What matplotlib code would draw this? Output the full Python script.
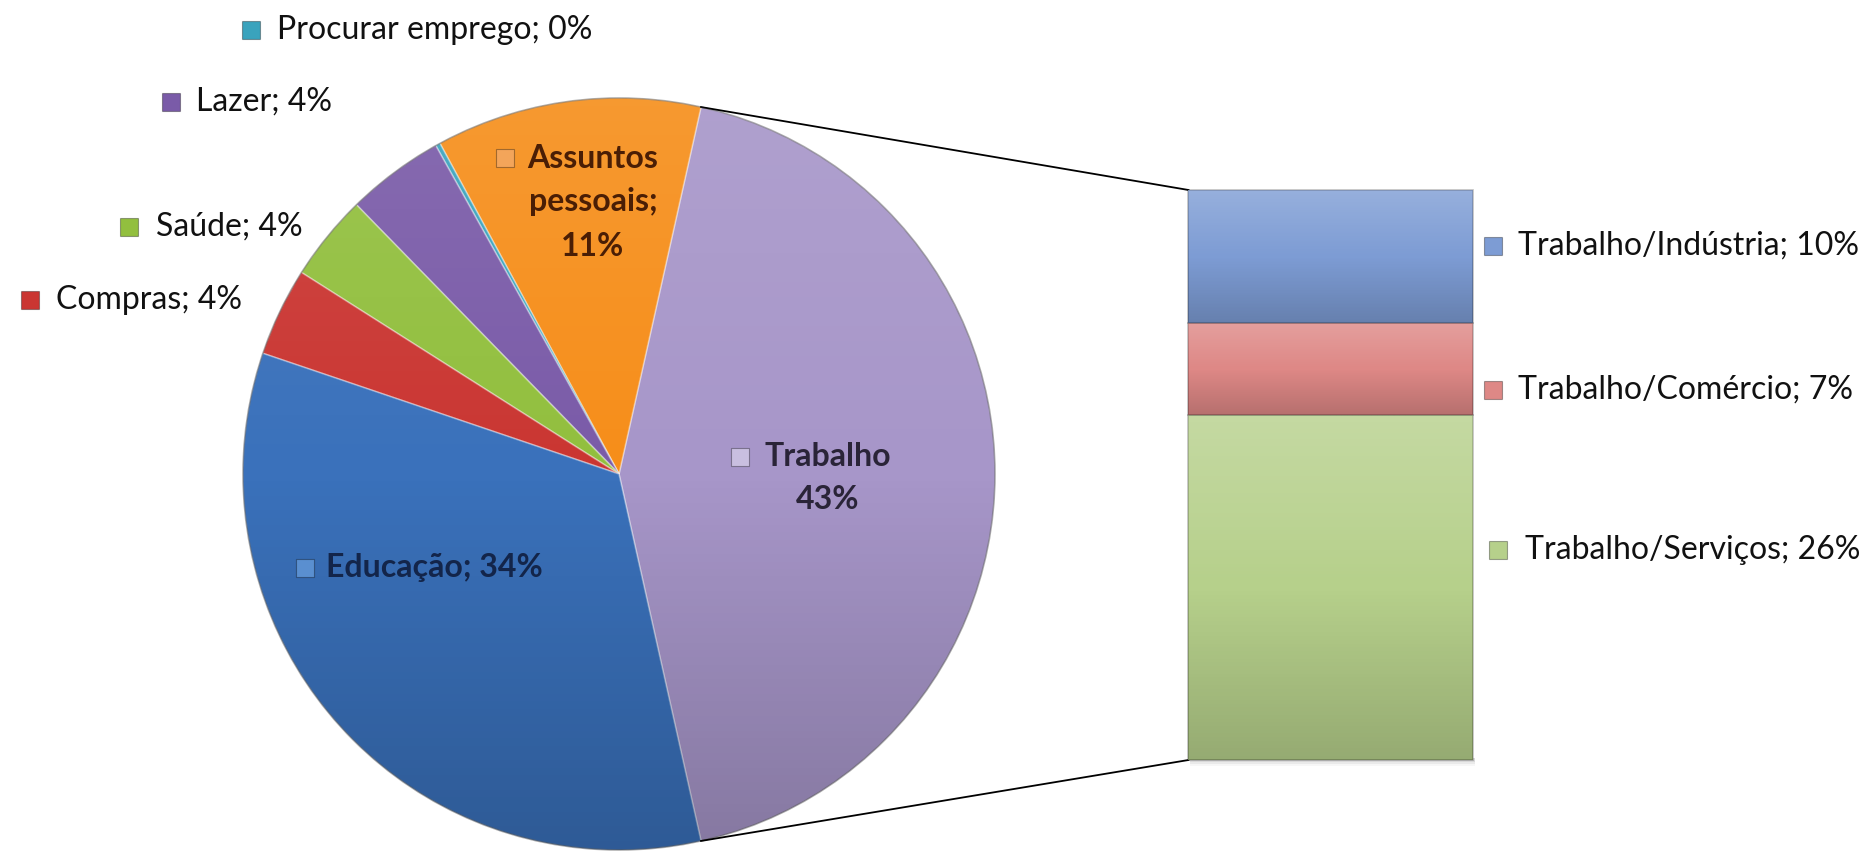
import matplotlib.pyplot as plt
import numpy as np
from matplotlib.patches import Rectangle, Circle

# dados da pizza principal
categorias = ['Trabalho', 'Assuntos pessoais', 'Procurar emprego', 'Lazer', 'Saúde', 'Compras', 'Educação']
valores = [43.0, 11.4, 0.2, 4.2, 3.7, 3.8, 33.7]
cores = ['#a796c9', '#f68e1a', '#3aa3bd', '#7a5ba8', '#92bf3e', '#ca3632', '#3a71bb']

# desdobramento da fatia "Trabalho" na barra
sub_categorias = ['Trabalho/Indústria', 'Trabalho/Comércio', 'Trabalho/Serviços']
sub_valores = [10, 7, 26]
sub_cores = ['#7d9cd4', '#de8886', '#b6d08b']

W, H = 1873, 855


def py(y):
    # coordenada de pixel (de cima para baixo) -> dados
    return H - y


def sombra(ax, patch, x0, x1, y0, y1, claro=0.22, escuro=0.22):
    # gradiente vertical: claro em cima, escuro embaixo
    n = 256
    t = np.linspace(0, 1, n)
    g = np.zeros((n, 1, 4))
    g[:, 0, :3] = (t < 0.5)[:, None] * 1.0
    g[:, 0, 3] = np.clip(1 - t / 0.5, 0, 1) * claro + np.clip((t - 0.5) / 0.5, 0, 1) * escuro
    im = ax.imshow(g, extent=(x0, x1, y0, y1), aspect='auto', origin='upper',
                   interpolation='bilinear', zorder=patch.get_zorder() + 0.1)
    im.set_clip_path(patch)


def marcador(ax, x, y, cor, lado=18):
    ax.add_patch(Rectangle((x - lado / 2, py(y) - lado / 2), lado, lado, facecolor=cor,
                           edgecolor='#00000055', linewidth=0.8, zorder=6))


plt.rcParams['font.family'] = ['Lato', 'DejaVu Sans']
fig = plt.figure(figsize=(W / 100, H / 100), dpi=100)
ax = fig.add_axes([0, 0, 1, 1])

# pizza
cx, cy, r = 619, py(474), 376
inicio = -valores[0] / sum(valores) * 180
fatias, _ = ax.pie(valores, colors=cores, startangle=inicio, center=(cx, cy), radius=r,
                   counterclock=True, wedgeprops=dict(edgecolor=(1, 1, 1, 0.35), linewidth=1.2))
contorno = Circle((cx, cy), r, facecolor='none', edgecolor='#00000050', linewidth=1.2, zorder=3)
ax.add_patch(contorno)
sombra(ax, contorno, cx - r, cx + r, cy - r, cy + r, claro=0.1, escuro=0.2)

# barra (sombra suave embaixo)
bx, bw = 1331, 285
for d, a in [(6, '#00000008'), (4, '#0000000d'), (2, '#00000012')]:
    ax.add_patch(Rectangle((bx - bw / 2 + 2, py(760) - d), bw, d + 2, facecolor=a,
                           edgecolor='none', zorder=1))
k = 570 / sum(sub_valores)
fundo = py(760)
for nome, v, c in reversed(list(zip(sub_categorias, sub_valores, sub_cores))):
    ret = ax.bar(bx, v * k, width=bw, bottom=fundo, color=c, edgecolor='#00000040',
                 linewidth=1.2, zorder=2)[0]
    sombra(ax, ret, bx - bw / 2, bx + bw / 2, fundo, fundo + v * k, claro=0.2, escuro=0.18)
    fundo += v * k
topo_barra = fundo

# linhas de ligação
t1, t2 = np.radians(fatias[0].theta1), np.radians(fatias[0].theta2)
ax.plot([cx + r * np.cos(t2), bx - bw / 2], [cy + r * np.sin(t2), topo_barra], color='black', lw=1.3, zorder=1)
ax.plot([cx + r * np.cos(t1), bx - bw / 2], [cy + r * np.sin(t1), py(760)], color='black', lw=1.3, zorder=1)

fs = 23

# rótulos externos (marcador x, y, texto x)
externos = {'Procurar emprego': (251, 30, 277), 'Lazer': (171, 102, 196),
            'Saúde': (129, 227, 156), 'Compras': (30, 300, 56)}
for nome, (mx, my, tx) in externos.items():
    i = categorias.index(nome)
    marcador(ax, mx, my, cores[i])
    ax.text(tx, py(my), f'{nome}; {valores[i]:.0f}%', fontsize=fs, color='#111111',
            ha='left', va='center', zorder=7)

# rótulos internos
i = categorias.index('Educação')
marcador(ax, 305, 568, '#5a8fd0')
ax.text(326, py(568), f'Educação; {valores[i]:.0f}%', fontsize=fs, fontweight='bold',
        color='#13254a', ha='left', va='center', zorder=7)

i = categorias.index('Assuntos pessoais')
marcador(ax, 505, 158, '#f3a55a')
for j, linha in enumerate(['Assuntos', 'pessoais;', f'{valores[i]:.0f}%']):
    ax.text(593, py(158 + 44 * j), linha, fontsize=fs, fontweight='bold', color='#4a1e05',
            ha='center', va='center', zorder=7)

i = categorias.index('Trabalho')
marcador(ax, 740, 457, '#c9bfe0')
for j, linha in enumerate(['Trabalho', f'{valores[i]:.0f}%']):
    ax.text(828, py(457 + 42 * j), linha, fontsize=fs, fontweight='bold', color='#2a2438',
            ha='center', va='center', zorder=7)

# rótulos da barra
pos_barra = [(1493, 246, 1518), (1493, 390, 1518), (1498, 550, 1525)]
for nome, v, c, (mx, my, tx) in zip(sub_categorias, sub_valores, sub_cores, pos_barra):
    marcador(ax, mx, my, c)
    ax.text(tx, py(my), f'{nome}; {v}%', fontsize=fs, color='#111111', ha='left', va='center', zorder=7)

ax.set_xlim(0, W)
ax.set_ylim(0, H)
ax.set_aspect('auto')
ax.axis('off')
fig.savefig('out.png', dpi=100, facecolor='white')
